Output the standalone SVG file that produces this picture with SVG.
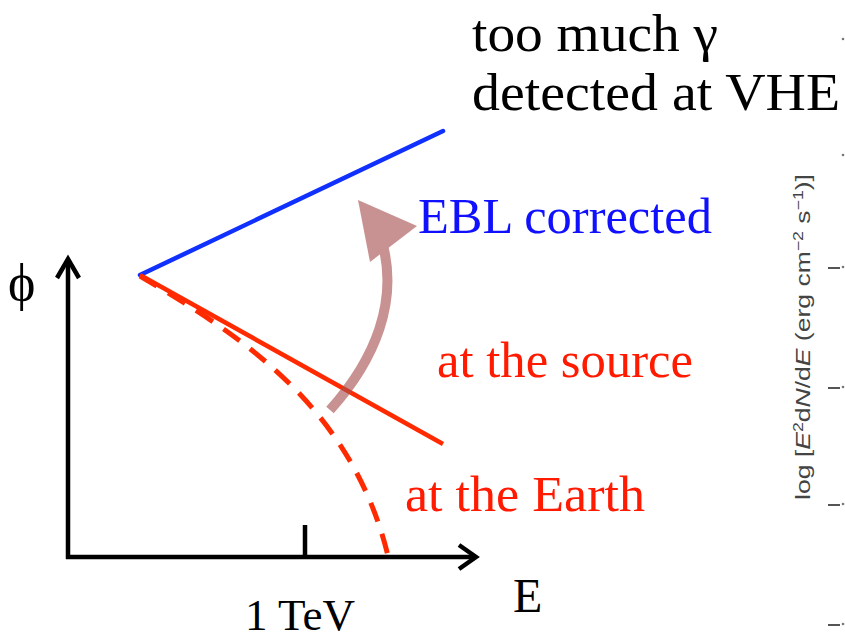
<svg xmlns="http://www.w3.org/2000/svg" width="845" height="640" viewBox="0 0 845 640">
<style>
.serif{font-family:"Liberation Serif","Times New Roman",serif;}
.ax{stroke:#000;stroke-width:4.5;fill:none;stroke-linecap:butt;}
.tick{stroke:#555;stroke-width:2;}
.dot{fill:#777;}
</style>
<rect width="845" height="640" fill="#fff"/>
<g id="axes">
<line class="ax" x1="68" y1="559" x2="68" y2="259"/>
<polyline class="ax" points="57,278 68,259 79,278" stroke-linejoin="miter"/>
<line class="ax" x1="66" y1="557" x2="475" y2="557"/>
<polyline class="ax" points="459,545 476,557 459,569"/>
<line class="ax" x1="305" y1="525" x2="305" y2="557"/>
</g>
<g id="connectors">
<line x1="140" y1="275" x2="443" y2="131" stroke="#1030ff" stroke-width="4.5" stroke-linecap="round"/>
<line x1="140" y1="275" x2="443" y2="444" stroke="#ff2a00" stroke-width="4.5"/>
<path d="M140,276 C230,330 350,400 388,556" fill="none" stroke="#ff2a00" stroke-width="5" stroke-dasharray="20,13"/>
<g opacity="0.62">
<path d="M330,410 C375,360 400,300 381,238" fill="none" stroke="#a85050" stroke-width="10"/>
<polygon points="358,200 417,226 370,262" fill="#a85050"/>
</g>
</g>
<g id="labels" class="serif">
<text x="8" y="300" font-size="52">ϕ</text>
<text x="472" y="51" font-size="52" textLength="246" lengthAdjust="spacingAndGlyphs">too much γ</text>
<text x="472" y="110" font-size="52" textLength="368" lengthAdjust="spacingAndGlyphs">detected at VHE</text>
<text x="418" y="233" font-size="50" fill="#1010ff" textLength="294" lengthAdjust="spacingAndGlyphs">EBL corrected</text>
<text x="437" y="377" font-size="50" fill="#ff1a00" textLength="256" lengthAdjust="spacingAndGlyphs">at the source</text>
<text x="405" y="511" font-size="50" fill="#ff1a00" textLength="240" lengthAdjust="spacingAndGlyphs">at the Earth</text>
<text x="513" y="612" font-size="48">E</text>
<text x="245" y="630" font-size="44" textLength="110" lengthAdjust="spacingAndGlyphs">1 TeV</text>
</g>
<g id="plot-axis">
<text transform="translate(810,337) rotate(-90)" text-anchor="middle" font-family="Liberation Sans, Arial, sans-serif" font-size="21" fill="#444" textLength="326" lengthAdjust="spacingAndGlyphs">log [<tspan font-style="italic">E</tspan><tspan font-size="14" dy="-7">2</tspan><tspan dy="7">d</tspan><tspan font-style="italic">N</tspan>/d<tspan font-style="italic">E</tspan> (erg cm<tspan font-size="14" dy="-7">−2</tspan><tspan dy="7"> s</tspan><tspan font-size="14" dy="-7">−1</tspan><tspan dy="7">)]</tspan></text>
<line class="tick" x1="828" y1="268" x2="840" y2="268"/>
<line class="tick" x1="828" y1="388" x2="840" y2="388"/>
<line class="tick" x1="828" y1="505" x2="840" y2="505"/>
<line class="tick" x1="828" y1="625" x2="840" y2="625"/>
<circle class="dot" cx="843" cy="39" r="1.3"/>
<circle class="dot" cx="843" cy="155" r="1.3"/>
<circle class="dot" cx="843" cy="267" r="1.3"/>
<circle class="dot" cx="843" cy="387" r="1.3"/>
<circle class="dot" cx="843" cy="504" r="1.3"/>
<circle class="dot" cx="843" cy="624" r="1.3"/>
</g>
</svg>
